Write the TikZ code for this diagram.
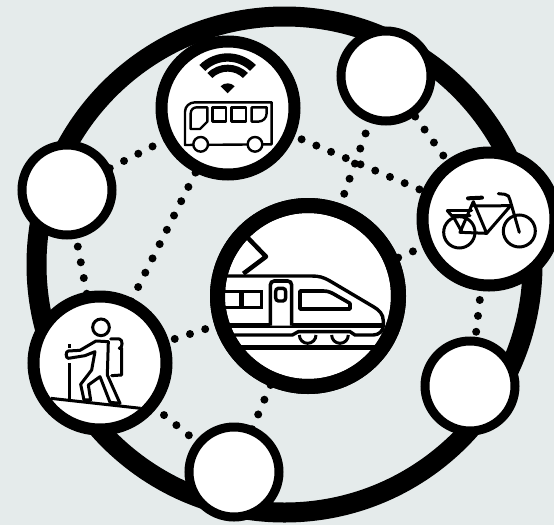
\documentclass[tikz,border=0pt]{standalone}
\definecolor{bgc}{HTML}{E5EBEB}
\tikzset{
  hub/.style={circle,draw=black,fill=white,line width=12pt,inner sep=0pt,outer sep=0pt,minimum size=133pt},
  stop/.style={circle,draw=black,fill=white,line width=9pt,inner sep=0pt,outer sep=0pt,minimum size=90pt},
  core/.style={circle,draw=black,fill=white,line width=15pt,inner sep=0pt,outer sep=0pt,minimum size=181pt},
  dots/.style={line width=8pt,line cap=round,dash pattern=on 0pt off 16pt},
  ico/.style={line width=3pt,line join=round,line cap=round}
}
\begin{document}
\begin{tikzpicture}[x=1pt,y=1pt,yscale=-1]
\useasboundingbox (0,0) rectangle (554,525);
\fill[bgc] (0,0) rectangle (554,525);
\draw[line width=20pt] (284.5,264.5) circle[radius=248pt];
% nodes
\node[hub] (bus) at (228,108) {};
\node[core] (train) at (308,296) {};
\node[hub] (hiker) at (100,363) {};
\node[hub] (bike) at (489,219) {};
\node[stop] (top) at (386,76) {};
\node[stop] (left) at (67,190) {};
\node[stop] (right) at (470,386) {};
\node[stop] (bottom) at (234,472) {};
% connectors
\draw[dots,shorten <=3pt] (left) -- (bus);
\draw[dots,shorten <=13.5pt] (bus) -- (bike);
\draw[dots,shorten <=5.8pt] (bus) -- (hiker);
\draw[dots,shorten <=5pt] (top) -- (bike);
\draw[dots,shorten <=0pt] (top) -- (train);
\draw[dots,shorten <=12.6pt] (left) -- (hiker);
\draw[dots,shorten <=1.5pt] (train) -- (hiker);
\draw[dots,shorten <=7.5pt] (train) -- (bike);
\draw[dots,shorten <=-1pt] (bike) -- (right);
\draw[dots,shorten <=0pt] (hiker) -- (bottom);
\draw[dots,shorten <=6pt] (train) -- (bottom);
% bus icon
\begin{scope}[shift={(150,30)},scale=0.3333]
 \fill (233,190) -- ++(-45:30) arc[start angle=-45,end angle=-135,radius=30] -- cycle;
 \fill (233,190)++(-45:65) arc[start angle=-45,end angle=-135,radius=65] -- ++(-135:21) arc[start angle=-135,end angle=-45,radius=86] -- cycle;
 \fill (233,190)++(-45:95) arc[start angle=-45,end angle=-135,radius=95] -- ++(-135:25) arc[start angle=-135,end angle=-45,radius=120] -- cycle;
 \draw[line width=2.4pt,line join=round] (105,345) -- (105,245) to[out=-90,in=180] (135,217) -- (365,217) -- (365,343) -- cycle;
 \draw[line width=2.4pt,line join=round] (122,297) -- (122,250) to[out=-90,in=180] (140,232) -- (172,232) -- (172,275) -- (150,297) -- cycle;
 \draw[line width=2.4pt,line join=round] (187,232) rectangle (228,275);
 \draw[line width=2.4pt,line join=round] (245,232) rectangle (288,275);
 \draw[line width=2.4pt,line join=round] (305,232) -- (350,232) -- (350,250) to[out=90,in=0] (325,275) -- (305,275) -- cycle;
 \draw[line width=2.4pt,fill=white] (152,343) circle[radius=22];
 \draw[line width=2.4pt,fill=white] (315,343) circle[radius=22];
\end{scope}
% train icon, cut by the ring
\begin{scope}
 \clip (308,296) circle[radius=85pt];
 \begin{scope}[shift={(205,195)},scale=0.3333]
  \draw[line width=4.5pt,line join=round] (115,236) -- (183,185) -- (128,128);
  \draw[line width=3.4pt] (40,243) -- (320,243) to[out=0,in=-150] (375,258) -- (505,335) to[out=30,in=-90] (535,378) -- (535,392) to[out=90,in=0] (505,420) -- (450,420) -- (435,410) -- (280,410) -- (262,420) -- (60,420);
  \draw[line width=5pt] (40,392) -- (535,392);
  \draw[line width=4.5pt] (60,458) -- (560,458);
  \draw[line width=3.6pt,fill=white] (196,392) -- (196,270) to[out=-90,in=180] (208,258) -- (248,258) to[out=0,in=-90] (260,270) -- (260,392);
  \draw[line width=3.4pt] (212,290) to[out=-90,in=180] (220,280) -- (234,280) to[out=0,in=-90] (242,290) -- (242,308) to[out=90,in=0] (234,318) -- (220,318) to[out=180,in=90] (212,308) -- cycle;
  \draw[line width=3.6pt,fill=white] (40,290) rectangle (170,338);
  \draw[line width=5pt] (110,290) -- (110,338);
  \draw[line width=3.6pt,line join=round] (285,288) -- (355,288) to[out=0,in=-150] (395,302) -- (435,325) -- (435,342) -- (285,342) -- cycle;
  \draw[line width=3pt] (283,420) arc[start angle=180,end angle=0,radius=25];
  \draw[line width=3pt] (380,420) arc[start angle=180,end angle=0,radius=25];
 \end{scope}
\end{scope}
\draw[line width=15pt] (train.center) circle[radius=90.5pt];
% hiker icon
\begin{scope}[shift={(20,285)},scale=0.3333]
 \draw[line width=3pt] (243,127) circle[radius=25];
 \draw[ico] (265,170) -- (228,168) -- (180,196) -- (145,198) to[out=180,in=180] (145,220) -- (195,212) -- (225,200) -- (215,255) -- (182,298) -- (192,345);
 \draw[ico] (192,345) -- (212,345) -- (205,300) -- (240,275) -- (270,352) -- (300,355) -- (262,270) -- (265,170);
 \draw[ico] (272,162) -- (298,162) to[out=0,in=0] (298,190) -- (305,190) -- (305,270) -- (275,272);
 \draw[line width=3pt] (150,178) -- (150,190);
 \draw[line width=3pt] (150,235) -- (150,342);
 \draw[line width=3pt] (92,340) -- (362,370);
\end{scope}
% bike icon
\begin{scope}[shift={(410,145)},scale=0.3333]
 \draw[line width=3pt] (148,262) circle[radius=47];
 \draw[line width=3pt] (328,258) circle[radius=48];
 \draw[ico] (190,170) -- (230,265) -- (150,262) -- (190,170);
 \draw[ico] (192,183) -- (302,182) -- (230,265);
 \draw[ico] (112,197) -- (185,197);
 \draw[ico] (112,197) -- (125,212) -- (180,212);
 \draw[ico] (130,215) -- (155,260);
 \draw[ico] (265,146) -- (285,148) to[out=0,in=-100] (300,165) -- (328,262);
 \draw[line width=4pt,line cap=round] (174,160) -- (216,158);
\end{scope}
\end{tikzpicture}
\end{document}
